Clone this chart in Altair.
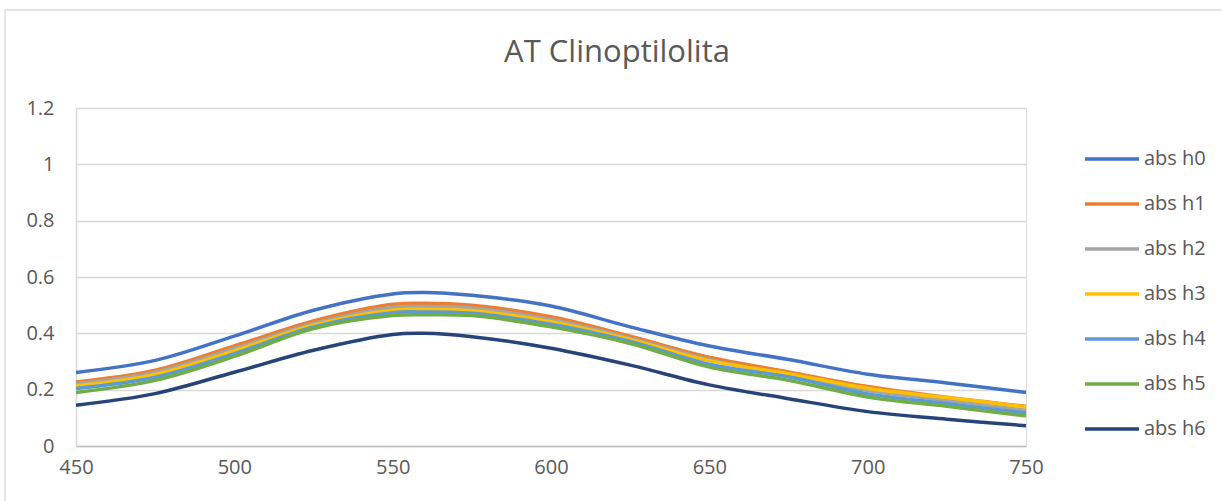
import altair as alt
import pandas as pd

wavelengths = [450, 475, 500, 525, 550, 560, 575, 600, 625, 650, 675, 700, 725, 750]
abs_h0 = [0.261, 0.304, 0.390, 0.482, 0.540, 0.545, 0.535, 0.497, 0.423, 0.355, 0.307, 0.255, 0.224, 0.190]
abs_h1 = [0.227, 0.269, 0.355, 0.444, 0.503, 0.507, 0.500, 0.459, 0.390, 0.315, 0.263, 0.211, 0.173, 0.141]
abs_h2 = [0.221, 0.262, 0.346, 0.435, 0.492, 0.495, 0.490, 0.449, 0.383, 0.307, 0.252, 0.197, 0.162, 0.127]
abs_h3 = [0.213, 0.254, 0.338, 0.429, 0.482, 0.485, 0.480, 0.441, 0.378, 0.303, 0.257, 0.205, 0.172, 0.139]
abs_h4 = [0.204, 0.244, 0.328, 0.423, 0.473, 0.476, 0.471, 0.432, 0.371, 0.290, 0.245, 0.185, 0.151, 0.117]
abs_h5 = [0.190, 0.233, 0.318, 0.417, 0.463, 0.466, 0.463, 0.423, 0.364, 0.280, 0.233, 0.174, 0.141, 0.107]
abs_h6 = [0.145, 0.186, 0.262, 0.340, 0.396, 0.400, 0.388, 0.347, 0.287, 0.217, 0.168, 0.122, 0.095, 0.072]

series_names = ["abs h0", "abs h1", "abs h2", "abs h3", "abs h4", "abs h5", "abs h6"]
series_values = [abs_h0, abs_h1, abs_h2, abs_h3, abs_h4, abs_h5, abs_h6]
colors = ["#4472C4", "#ED7D31", "#A5A5A5", "#FFC000", "#5B9BD5", "#70AD47", "#264478"]
title_text = "AT Clinoptilolita"

rows = []
for name, vals in zip(series_names, series_values):
    for wl, v in zip(wavelengths, vals):
        rows.append({"wl": wl, "abs": v, "serie": name})
df = pd.DataFrame(rows)

FONT = "Open Sans"
GRAY = "#595959"

lines = alt.Chart(df).mark_line(strokeWidth=3.5, interpolate="catmull-rom").encode(
    x=alt.X("wl:Q", scale=alt.Scale(domain=[450, 750], nice=False, zero=False),
            axis=alt.Axis(values=[450, 500, 550, 600, 650, 700, 750], title=None,
                          grid=False, ticks=False, domainColor="#BFBFBF", domainWidth=1.5,
                          labelColor=GRAY, labelFontSize=20, labelFont=FONT,
                          labelPadding=11, labelFlush=False)),
    y=alt.Y("abs:Q", scale=alt.Scale(domain=[0, 1.2], nice=False),
            axis=alt.Axis(values=[0, 0.2, 0.4, 0.6, 0.8, 1.0, 1.2], format="~g", title=None,
                          grid=True, gridColor="#D9D9D9", gridWidth=1.3, ticks=False,
                          domainColor="#D9D9D9", domainWidth=1.5,
                          labelColor=GRAY, labelFontSize=20, labelFont=FONT,
                          labelPadding=22)),
    color=alt.Color("serie:N", scale=alt.Scale(domain=series_names, range=colors),
                    legend=alt.Legend(title=None, orient="none", legendX=1007, legendY=22,
                                      symbolType="stroke", symbolSize=2916, symbolStrokeWidth=3.5,
                                      labelFontSize=20, labelFont=FONT, labelColor=GRAY,
                                      labelOffset=3, rowPadding=6)),
)

border = alt.Chart(alt.Data(values=[{"k": 1}])).mark_rect(
    filled=False, stroke="#D9D9D9", strokeWidth=1.3
).encode(
    x=alt.value(-71), x2=alt.value(1160), y=alt.value(-98), y2=alt.value(410)
)

title = alt.Chart(alt.Data(values=[{"t": title_text}])).mark_text(
    fontSize=31, font=FONT, color=GRAY, baseline="alphabetic", align="center"
).encode(
    text="t:N", x=alt.value(541), y=alt.value(-46)
)

chart = alt.layer(border, title, lines).properties(
    width=950,
    height=338,
    autosize=alt.AutoSizeParams(type="none"),
    padding={"left": 76, "top": 108, "right": 195, "bottom": 55},
).configure_view(stroke=None).configure(background="white")

chart.save("out.html", embed_options={"renderer": "svg", "actions": False})
